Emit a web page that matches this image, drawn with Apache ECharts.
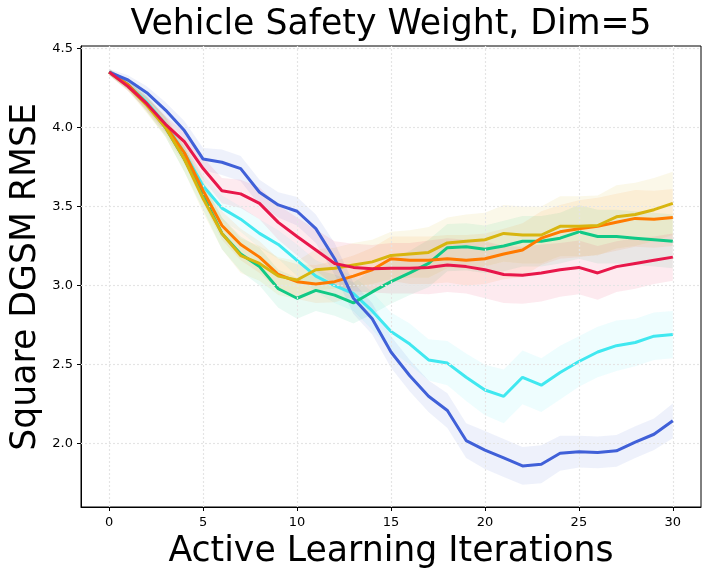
<!DOCTYPE html>
<html>
<head>
<meta charset="utf-8">
<script src="https://cdn.jsdelivr.net/npm/echarts@6/dist/echarts.min.js"></script>
<style>html,body{margin:0;padding:0;background:#fff}#c{width:711px;height:580px}</style>
</head>
<body>
<div id="c"></div>
<script>
const iters = [0,1,2,3,4,5,6,7,8,9,10,11,12,13,14,15,16,17,18,19,20,21,22,23,24,25,26,27,28,29,30];
const xTicks = [0,5,10,15,20,25,30];
const yTicks = [2.0,2.5,3.0,3.5,4.0,4.5];

const blueMean = [4.35,4.30,4.22,4.11,3.98,3.80,3.78,3.74,3.59,3.51,3.47,3.36,3.17,2.92,2.79,2.58,2.43,2.30,2.21,2.02,1.96,1.91,1.86,1.87,1.94,1.95,1.945,1.955,2.01,2.06,2.145];
const cyanMean = [4.35,4.27,4.16,4.02,3.84,3.63,3.49,3.42,3.33,3.26,3.16,3.06,3.00,2.95,2.84,2.71,2.63,2.53,2.51,2.42,2.34,2.30,2.42,2.37,2.45,2.52,2.58,2.62,2.64,2.68,2.69];
const greenMean = [4.35,4.27,4.15,4.00,3.80,3.57,3.33,3.20,3.12,2.98,2.92,2.97,2.94,2.89,2.96,3.025,3.08,3.14,3.24,3.245,3.23,3.25,3.28,3.28,3.30,3.34,3.31,3.31,3.30,3.29,3.28];
const orangeMean = [4.35,4.27,4.15,4.01,3.84,3.60,3.38,3.26,3.18,3.07,3.025,3.01,3.025,3.06,3.10,3.17,3.16,3.16,3.17,3.16,3.17,3.20,3.225,3.30,3.34,3.36,3.375,3.40,3.425,3.42,3.43];
const goldMean = [4.35,4.26,4.14,4.00,3.80,3.55,3.33,3.19,3.14,3.06,3.035,3.10,3.11,3.13,3.15,3.19,3.20,3.21,3.27,3.28,3.29,3.33,3.32,3.32,3.375,3.375,3.38,3.435,3.45,3.48,3.52];
const redMean = [4.35,4.26,4.15,4.02,3.91,3.74,3.60,3.58,3.52,3.40,3.31,3.225,3.14,3.115,3.107,3.11,3.11,3.115,3.13,3.12,3.10,3.07,3.065,3.08,3.10,3.115,3.08,3.12,3.14,3.16,3.18];

const blueSd = [0.02,0.03,0.04,0.05,0.06,0.07,0.08,0.08,0.08,0.08,0.09,0.09,0.10,0.10,0.10,0.10,0.10,0.10,0.11,0.11,0.12,0.12,0.12,0.12,0.11,0.10,0.10,0.10,0.10,0.10,0.11];
const cyanSd = [0.02,0.03,0.04,0.05,0.06,0.07,0.08,0.08,0.09,0.09,0.10,0.10,0.11,0.11,0.12,0.12,0.13,0.13,0.14,0.15,0.16,0.17,0.17,0.17,0.17,0.16,0.16,0.16,0.15,0.15,0.15];
const greenSd = [0.02,0.03,0.05,0.06,0.08,0.09,0.10,0.11,0.12,0.12,0.13,0.13,0.13,0.13,0.14,0.14,0.14,0.15,0.15,0.15,0.15,0.16,0.16,0.16,0.16,0.17,0.17,0.17,0.17,0.17,0.17];
const orangeSd = [0.02,0.03,0.05,0.06,0.07,0.08,0.09,0.10,0.10,0.10,0.11,0.12,0.13,0.13,0.14,0.14,0.15,0.15,0.15,0.16,0.16,0.16,0.17,0.17,0.17,0.18,0.18,0.18,0.18,0.18,0.18];
const goldSd = [0.02,0.03,0.05,0.06,0.08,0.09,0.10,0.11,0.11,0.12,0.12,0.13,0.13,0.14,0.14,0.15,0.15,0.16,0.16,0.17,0.17,0.18,0.18,0.18,0.19,0.19,0.19,0.20,0.20,0.20,0.20];
const redSd = [0.02,0.03,0.04,0.05,0.06,0.07,0.08,0.09,0.10,0.11,0.12,0.13,0.14,0.15,0.15,0.16,0.16,0.17,0.17,0.17,0.18,0.18,0.18,0.18,0.17,0.17,0.17,0.16,0.16,0.15,0.15];

const seriesDefs = [
  {name:'cyan', mean:cyanMean, sd:cyanSd, color:'#40e8f0'},
  {name:'green', mean:greenMean, sd:greenSd, color:'#10c985'},
  {name:'orange', mean:orangeMean, sd:orangeSd, color:'#ff7a00'},
  {name:'gold', mean:goldMean, sd:goldSd, color:'#d8b50f'},
  {name:'blue', mean:blueMean, sd:blueSd, color:'#4060d8'},
  {name:'red', mean:redMean, sd:redSd, color:'#e8174a'}
];

const FONT = 'DejaVu Sans';
const series = [];

// grid lines
series.push({
  type:'line', data:[], silent:true, animation:false,
  markLine:{
    silent:true, animation:false, symbol:['none','none'], label:{show:false},
    lineStyle:{color:'#e4e4e4', type:[2,2], width:1.2},
    data: xTicks.map(v=>({xAxis:v})).concat(yTicks.map(v=>({yAxis:v})))
  }
});

seriesDefs.forEach(d=>{
  series.push({
    type:'custom', name:d.name+'_band', silent:true, animation:false,
    data:[[iters[0], d.mean[0]]],
    renderItem:function(params, api){
      const pts=[];
      for(let i=0;i<iters.length;i++) pts.push(api.coord([iters[i], d.mean[i]+d.sd[i]]));
      for(let i=iters.length-1;i>=0;i--) pts.push(api.coord([iters[i], d.mean[i]-d.sd[i]]));
      return {type:'polygon', shape:{points:pts}, style:{fill:d.color, opacity:0.09}};
    },
    z:1
  });
});
seriesDefs.forEach((d,k)=>{
  series.push({
    type:'line', name:d.name, showSymbol:false, symbol:'none', animation:false, silent:true,
    data: iters.map((x,i)=>[x, d.mean[i]]),
    lineStyle:{color:d.color, width:3}, z:3+k
  });
});

const chart = echarts.init(document.getElementById('c'), null, {renderer:'canvas'});
chart.setOption({
  animation:false,
  grid:{left:81, right:10, top:46, bottom:73, show:true, borderColor:'#000', borderWidth:1, backgroundColor:'transparent'},
  xAxis:{
    type:'value', min:-1.5, max:31.5,
    axisLine:{show:true, onZero:false, lineStyle:{color:'#000'}},
    axisTick:{show:true, inside:false, length:4, customValues:xTicks, lineStyle:{color:'#000'}},
    axisLabel:{customValues:xTicks, color:'#000', fontFamily:FONT, fontSize:13, margin:9},
    splitLine:{show:false}
  },
  yAxis:{
    type:'value', min:1.6, max:4.515,
    axisLine:{show:true, onZero:false, lineStyle:{color:'#000'}},
    axisTick:{show:true, inside:false, length:4, customValues:yTicks, lineStyle:{color:'#000'}},
    axisLabel:{customValues:yTicks, color:'#000', fontFamily:FONT, fontSize:13, margin:8, formatter:v=>v.toFixed(1)},
    splitLine:{show:false}
  },
  graphic:[
    {type:'text', x:391, y:25, style:{text:'Vehicle Safety Weight, Dim=5', fontFamily:FONT, fontSize:34.7, fill:'#000', align:'center', verticalAlign:'middle'}},
    {type:'text', x:391, y:552, style:{text:'Active Learning Iterations', fontFamily:FONT, fontSize:34.7, fill:'#000', align:'center', verticalAlign:'middle'}},
    {type:'text', x:26, y:277, rotation:Math.PI/2, style:{text:'Square DGSM RMSE', fontFamily:FONT, fontSize:34.7, fill:'#000', align:'center', verticalAlign:'middle'}}
  ],
  series:series
});
</script>
</body>
</html>
